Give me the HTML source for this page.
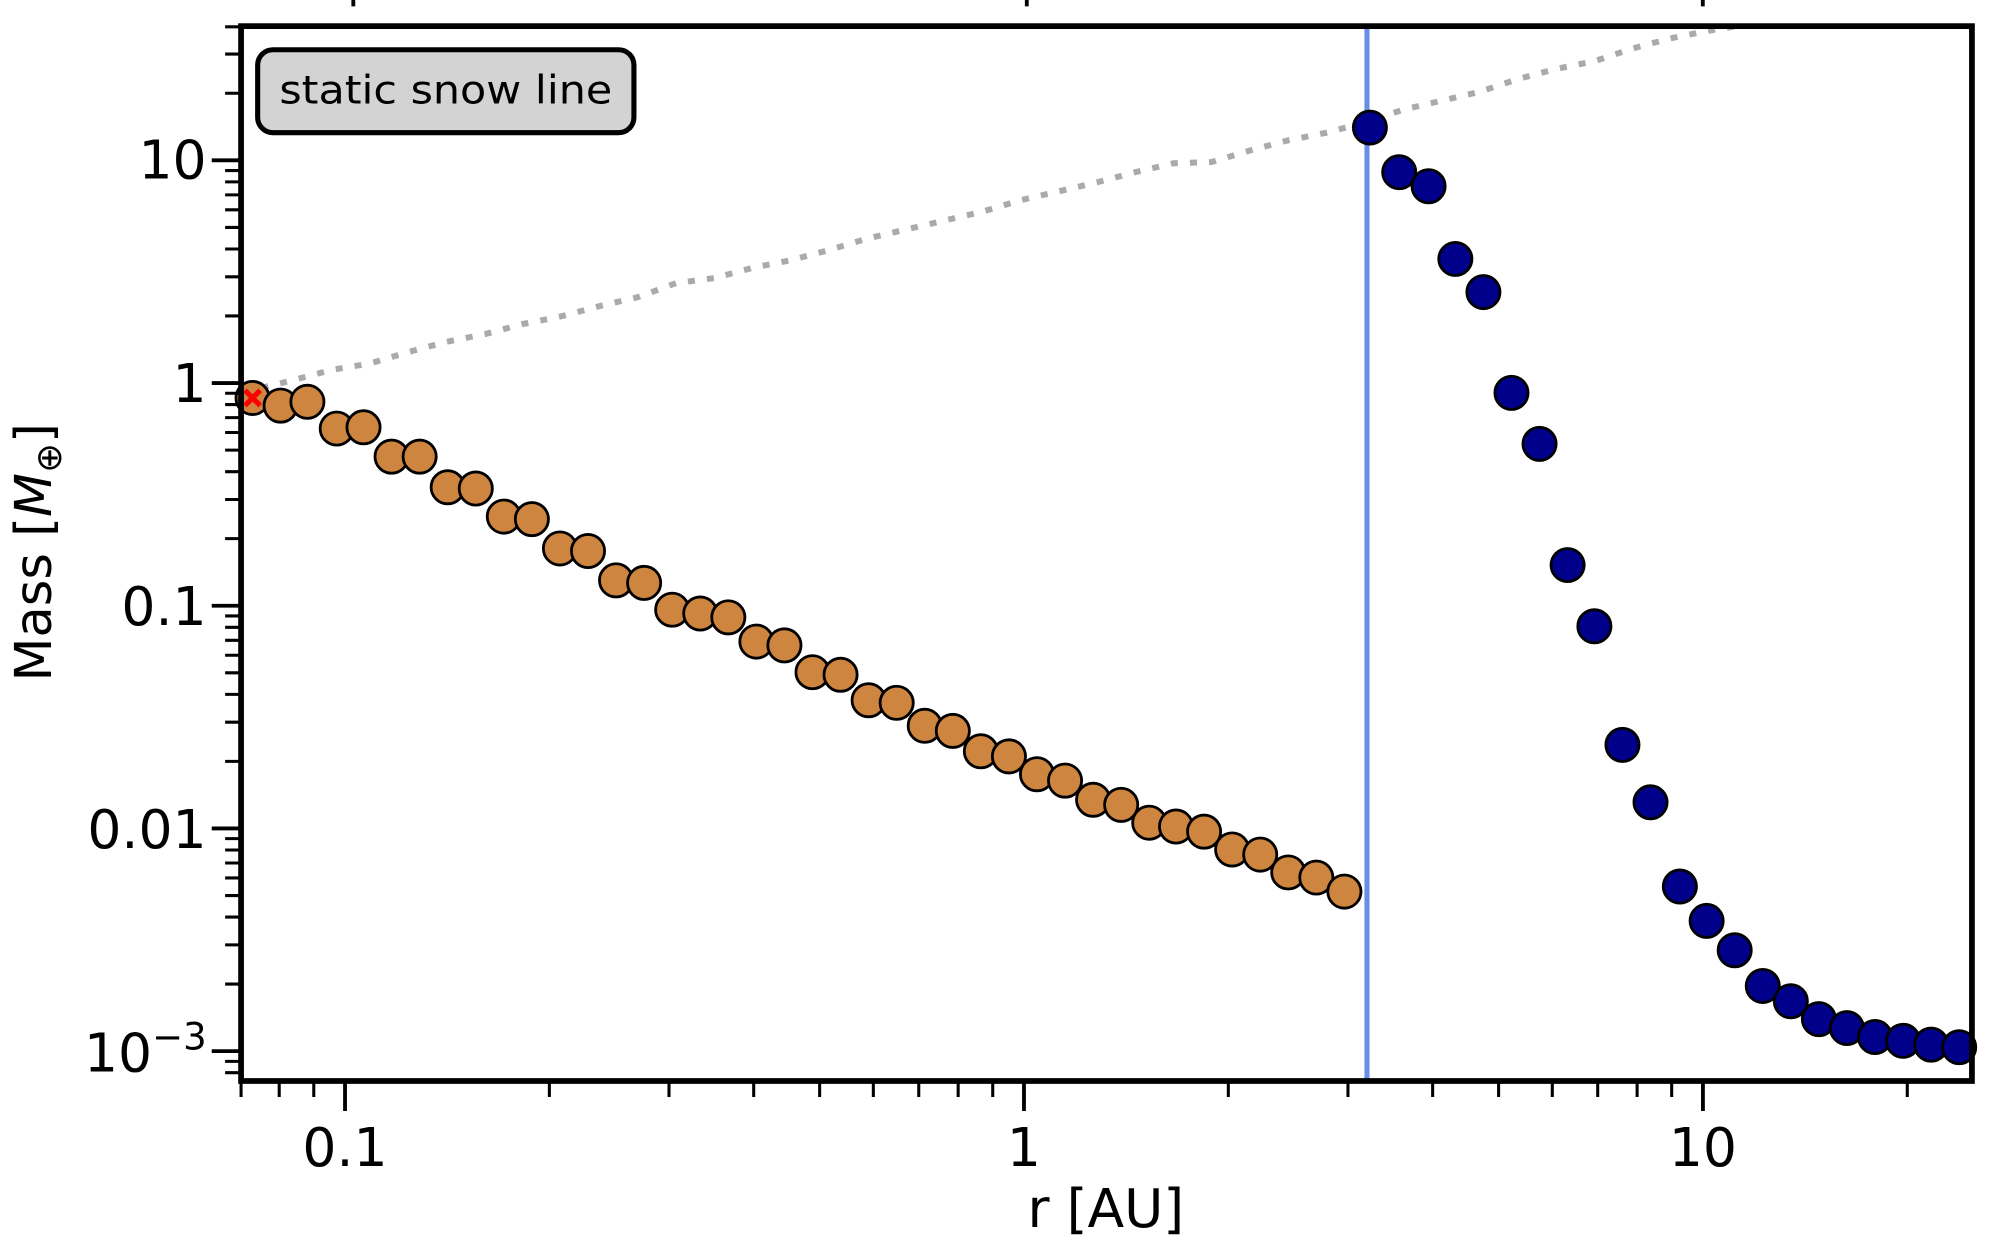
<!DOCTYPE html>
<html><head><meta charset="utf-8"><style>
html,body{margin:0;padding:0;background:#fff;}
svg{display:block;}
text{font-family:"DejaVu Sans","Liberation Sans",sans-serif;fill:#000;}
</style></head><body>
<svg width="2000" height="1250" viewBox="0 0 1568 980" preserveAspectRatio="none" xmlns="http://www.w3.org/2000/svg">
<rect width="1568" height="980" fill="#fff"/>
<!-- dotted gray line -->
<polyline points="205,304 230,298 260,290 290,285 320,276 350,268 380,262 410,254 440,248 470,240 500,233 530,222 560,218 590,210 620,204 650,196 680,187 710,180 740,173 770,166 800,157 830,150 860,143 890,135 920,128 950,127 980,118 1010,110 1040,104 1070,96 1100,86 1130,79 1160,72 1190,62 1220,54 1250,48 1280,38 1310,30 1340,24 1365,20" fill="none" stroke="#aaaaaa" stroke-width="4.7" stroke-dasharray="5.5 9.5"/>
<!-- snow line -->
<line x1="1071.7" y1="20" x2="1071.7" y2="848" stroke="#6a8ee8" stroke-width="4"/>
<!-- orange markers -->
<g fill="#cd853f" stroke="#000" stroke-width="2.2">
<circle cx="198" cy="312" r="13"/><circle cx="220" cy="318" r="13"/><circle cx="241" cy="315" r="13"/><circle cx="264" cy="336" r="13"/><circle cx="285" cy="335" r="13"/><circle cx="307" cy="358" r="13"/><circle cx="329" cy="358" r="13"/><circle cx="351" cy="382" r="13"/><circle cx="373" cy="383" r="13"/><circle cx="395" cy="405" r="13"/><circle cx="417" cy="407" r="13"/><circle cx="439" cy="430" r="13"/><circle cx="461" cy="432" r="13"/><circle cx="483" cy="455" r="13"/><circle cx="505" cy="457" r="13"/><circle cx="527" cy="478" r="13"/><circle cx="549" cy="481" r="13"/><circle cx="571" cy="484" r="13"/><circle cx="593" cy="503" r="13"/><circle cx="615" cy="506" r="13"/><circle cx="637" cy="527" r="13"/><circle cx="659" cy="529" r="13"/><circle cx="681" cy="549" r="13"/><circle cx="703" cy="551" r="13"/><circle cx="725" cy="569" r="13"/><circle cx="747" cy="573" r="13"/><circle cx="769" cy="589" r="13"/><circle cx="791" cy="593" r="13"/><circle cx="813" cy="607" r="13"/><circle cx="835" cy="612" r="13"/><circle cx="857" cy="627" r="13"/><circle cx="879" cy="631" r="13"/><circle cx="901" cy="645" r="13"/><circle cx="922" cy="648" r="13"/><circle cx="944" cy="652" r="13"/><circle cx="966" cy="666" r="13"/><circle cx="988" cy="670" r="13"/><circle cx="1010" cy="684" r="13"/><circle cx="1032" cy="688" r="13"/><circle cx="1054" cy="699" r="13"/>
</g>
<!-- blue markers -->
<g fill="#00008b" stroke="#000" stroke-width="2.2">
<circle cx="1074" cy="100" r="13"/><circle cx="1097" cy="135" r="13"/><circle cx="1120" cy="146" r="13"/><circle cx="1141" cy="203" r="13"/><circle cx="1163" cy="229" r="13"/><circle cx="1185" cy="308" r="13"/><circle cx="1207" cy="348" r="13"/><circle cx="1229" cy="443" r="13"/><circle cx="1250" cy="491" r="13"/><circle cx="1272" cy="584" r="13"/><circle cx="1294" cy="629" r="13"/><circle cx="1317" cy="695" r="13"/><circle cx="1338" cy="722" r="13"/><circle cx="1360" cy="745" r="13"/><circle cx="1382" cy="773" r="13"/><circle cx="1404" cy="785" r="13"/><circle cx="1426" cy="799" r="13"/><circle cx="1448" cy="806" r="13"/><circle cx="1470" cy="813" r="13"/><circle cx="1492" cy="816" r="13"/><circle cx="1514" cy="819" r="13"/><circle cx="1536" cy="821" r="13"/>
</g>
<!-- red x -->
<path d="M192,306 L204,318 M204,306 L192,318" stroke="#ff0000" stroke-width="4"/>
<!-- frame -->
<rect x="189" y="20.5" width="1357" height="827" fill="none" stroke="#000" stroke-width="4.5"/>
<!-- y major ticks -->
<path d="M166,125.7H189 M166,300.3H189 M166,474.9H189 M166,649.5H189 M166,824.1H189" stroke="#000" stroke-width="3"/>
<!-- y minor ticks -->
<path d="M176.5,73.1H189 M176.5,42.4H189 M176.5,21H189
M176.5,247.7H189 M176.5,217H189 M176.5,195.2H189 M176.5,178.3H189 M176.5,164.5H189 M176.5,152.8H189 M176.5,142.6H189 M176.5,133.7H189
M176.5,422.3H189 M176.5,391.6H189 M176.5,369.8H189 M176.5,352.9H189 M176.5,339.1H189 M176.5,327.4H189 M176.5,317.2H189 M176.5,308.3H189
M176.5,596.9H189 M176.5,566.2H189 M176.5,544.4H189 M176.5,527.5H189 M176.5,513.7H189 M176.5,502H189 M176.5,491.8H189 M176.5,482.9H189
M176.5,771.5H189 M176.5,740.8H189 M176.5,719H189 M176.5,702.1H189 M176.5,688.3H189 M176.5,676.6H189 M176.5,666.4H189 M176.5,657.5H189
M176.5,841H189 M176.5,832.1H189" stroke="#000" stroke-width="2.4"/>
<!-- x major ticks -->
<path d="M270.5,848V871 M802.8,848V871 M1335.1,848V871 M277,0V5 M805,0V5 M1335,0V5" stroke="#000" stroke-width="3"/>
<!-- x minor ticks -->
<path d="M189,848V860 M218.9,848V860 M246,848V860
M430.7,848V860 M524.5,848V860 M590.9,848V860 M642.6,848V860 M684.7,848V860 M720.3,848V860 M751.2,848V860 M778.3,848V860
M963,848V860 M1056.8,848V860 M1123.2,848V860 M1174.9,848V860 M1217,848V860 M1252.6,848V860 M1283.5,848V860 M1310.6,848V860
M1495.3,848V860" stroke="#000" stroke-width="2.4"/>
<!-- y labels -->
<g font-size="42" text-anchor="end">
<text x="162" y="140">10</text>
<text x="162" y="315">1</text>
<text x="162" y="490">0.1</text>
<text x="162" y="665">0.01</text>
<text x="162" y="840">10<tspan font-size="29" dy="-17">−3</tspan></text>
</g>
<!-- x labels -->
<g font-size="42" text-anchor="middle">
<text x="270.5" y="914">0.1</text>
<text x="802.8" y="914">1</text>
<text x="1335.1" y="914">10</text>
<text x="867" y="962">r [AU]</text>
</g>
<text transform="translate(40,433) rotate(-90)" font-size="40" text-anchor="middle">Mass [<tspan font-style="italic">M</tspan><tspan font-size="28" dy="8">⊕</tspan><tspan dy="-8">]</tspan></text>
<!-- legend -->
<rect x="202" y="39" width="295" height="65" rx="12" ry="12" fill="#d3d3d3" stroke="#000" stroke-width="4"/>
<text x="349.5" y="81" font-size="31" text-anchor="middle" textLength="261" lengthAdjust="spacingAndGlyphs">static snow line</text>
</svg>
</body></html>
